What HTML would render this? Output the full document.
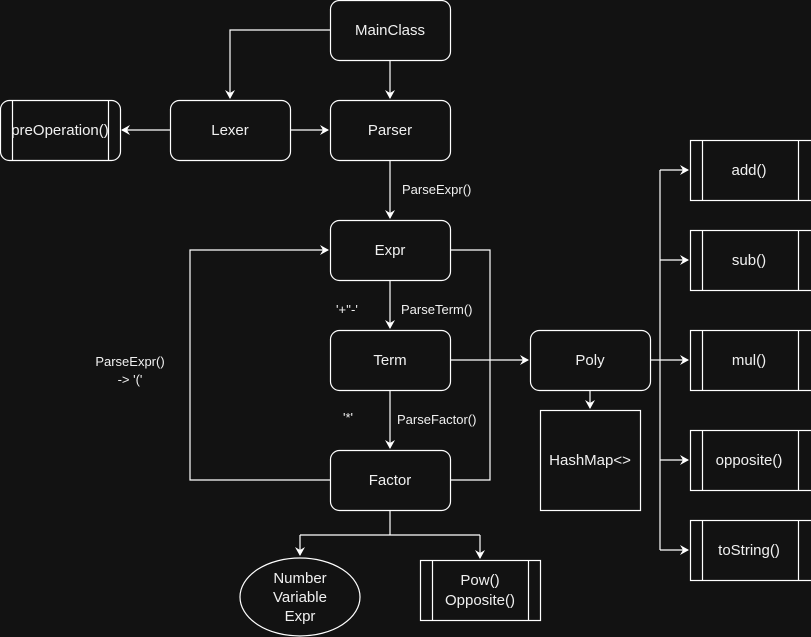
<!DOCTYPE html><html><head><style>body{margin:0;background:#121212}svg{display:block}text{font-family:"Liberation Sans",Arial,sans-serif;fill:#f0f0f0}</style></head><body>
<svg width="811" height="637" viewBox="0 0 811 637" xmlns="http://www.w3.org/2000/svg">
<defs><marker id="a" markerWidth="10" markerHeight="10" refX="8" refY="5" orient="auto" markerUnits="userSpaceOnUse"><path d="M0,0 L9,5 L0,10 L3,5 Z" fill="#fff"/></marker></defs>
<rect width="811" height="637" fill="#121212"/>
<g fill="none" stroke="#fff" stroke-width="1.2">
<path d="M330,30 H230 V98" marker-end="url(#a)"/>
<path d="M390,60 V98" marker-end="url(#a)"/>
<path d="M170,130 H122" marker-end="url(#a)"/>
<path d="M290,130 H328" marker-end="url(#a)"/>
<path d="M390,160 V218" marker-end="url(#a)"/>
<path d="M390,280 V328" marker-end="url(#a)"/>
<path d="M390,390 V448" marker-end="url(#a)"/>
<path d="M330,480 H190 V250 H328" marker-end="url(#a)"/>
<path d="M450,250 H490 V480 H450"/>
<path d="M450,360 H528" marker-end="url(#a)"/>
<path d="M590,390 V408" marker-end="url(#a)"/>
<path d="M650,360 H660"/>
<path d="M660,170 V550"/>
<path d="M660,170 H688" marker-end="url(#a)"/>
<path d="M660,260 H688" marker-end="url(#a)"/>
<path d="M660,360 H688" marker-end="url(#a)"/>
<path d="M660,460 H688" marker-end="url(#a)"/>
<path d="M660,550 H688" marker-end="url(#a)"/>
<path d="M390,510 V535 M300,535 H480"/>
<path d="M300,535 V555" marker-end="url(#a)"/>
<path d="M480,535 V558" marker-end="url(#a)"/>
<g fill="#121212">
<rect x="330.5" y="0.5" width="120" height="60" rx="9"/>
<rect x="170.5" y="100.5" width="120" height="60" rx="9"/>
<rect x="330.5" y="100.5" width="120" height="60" rx="9"/>
<rect x="0.5" y="100.5" width="120" height="60" rx="9"/>
<rect x="330.5" y="220.5" width="120" height="60" rx="9"/>
<rect x="330.5" y="330.5" width="120" height="60" rx="9"/>
<rect x="330.5" y="450.5" width="120" height="60" rx="9"/>
<rect x="530.5" y="330.5" width="120" height="60" rx="9"/>
<rect x="540.5" y="410.5" width="100" height="100"/>
<ellipse cx="300" cy="597" rx="60" ry="39"/>
<rect x="420.5" y="560.5" width="120" height="60"/>
<rect x="690.5" y="140.5" width="122" height="60"/>
<rect x="690.5" y="230.5" width="122" height="60"/>
<rect x="690.5" y="330.5" width="122" height="60"/>
<rect x="690.5" y="430.5" width="122" height="60"/>
<rect x="690.5" y="520.5" width="122" height="60"/>
</g>
<path d="M12.5,100.5V160.5M108.5,100.5V160.5M432.5,560.5V620.5M528.5,560.5V620.5"/>
<path d="M702.5,140V200M798.5,140V200M702.5,230V290M798.5,230V290M702.5,330V390M798.5,330V390M702.5,430V490M798.5,430V490M702.5,520V580M798.5,520V580"/>
</g>
<g font-size="15" text-anchor="middle">
<text x="390" y="35">MainClass</text>
<text x="230" y="135">Lexer</text>
<text x="390" y="135">Parser</text>
<text x="60" y="135">preOperation()</text>
<text x="390" y="255">Expr</text>
<text x="390" y="365">Term</text>
<text x="390" y="485">Factor</text>
<text x="590" y="365">Poly</text>
<text x="590" y="465">HashMap&lt;&gt;</text>
<text x="300" y="583">Number</text><text x="300" y="602">Variable</text><text x="300" y="621">Expr</text>
<text x="480" y="585">Pow()</text><text x="480" y="605">Opposite()</text>
<text x="749" y="175">add()</text>
<text x="749" y="265">sub()</text>
<text x="749" y="365">mul()</text>
<text x="749" y="465">opposite()</text>
<text x="749" y="555">toString()</text>
</g>
<g font-size="13">
<text x="402" y="194">ParseExpr()</text>
<text x="401" y="314">ParseTerm()</text>
<text x="397" y="424">ParseFactor()</text>
<text x="336" y="314">'+''-'</text>
<text x="343" y="422">'*'</text>
<text x="130" y="366" text-anchor="middle">ParseExpr()</text>
<text x="130" y="384" text-anchor="middle">-&gt; '('</text>
</g>
</svg></body></html>
